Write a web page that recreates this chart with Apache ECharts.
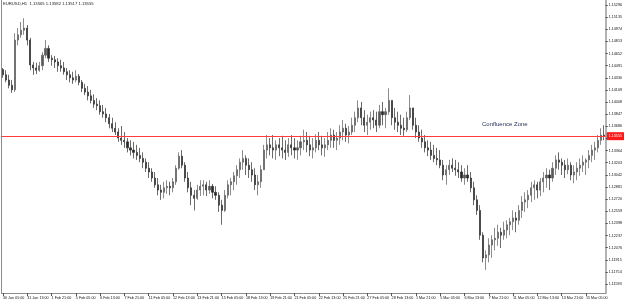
<!DOCTYPE html>
<html>
<head>
<meta charset="utf-8">
<script src="https://cdn.jsdelivr.net/npm/echarts@6/dist/echarts.min.js"></script>
<style>
  html, body { margin: 0; padding: 0; background: #fff; }
  #chart { width: 625px; height: 304px; }
</style>
</head>
<body>
<div id="chart"></div>
<script>
// EURUSD, H4-Kerzen (je 8 Kerzen pro Beschriftung)
const tickLabels = [
  "30 Jan 05:00", "31 Jan 13:00", "1 Feb 21:00", "5 Feb 05:00", "6 Feb 13:00",
  "7 Feb 21:00", "11 Feb 05:00", "12 Feb 13:00", "13 Feb 21:00", "15 Feb 05:00",
  "18 Feb 13:00", "19 Feb 21:00", "21 Feb 05:00", "22 Feb 13:00", "25 Feb 21:00",
  "27 Feb 05:00", "28 Feb 13:00", "1 Mar 21:00", "5 Mar 05:00", "6 Mar 13:00",
  "7 Mar 21:00", "11 Mar 05:00", "12 Mar 13:00", "13 Mar 21:00", "15 Mar 05:00"
];

const priceTicks = [
  1.15296, 1.15135, 1.14974, 1.14813, 1.14652, 1.14491, 1.14330, 1.14169,
  1.14008, 1.13847, 1.13686, 1.13525, 1.13364, 1.13203, 1.13042, 1.12881,
  1.12720, 1.12559, 1.12398, 1.12237, 1.12076, 1.11915, 1.11754, 1.11593
];

const highs = [
  1.1446, 1.1443, 1.1437, 1.1430, 1.1492, 1.1499, 1.1507, 1.1512, 1.1503, 1.1486,
  1.1454, 1.1453, 1.1454, 1.1467, 1.1483, 1.1476, 1.1463, 1.1462, 1.1459, 1.1457,
  1.1454, 1.1446, 1.1443, 1.1441, 1.1443, 1.1438, 1.1430, 1.1425, 1.1422, 1.1417,
  1.1411, 1.1406, 1.1403, 1.1397, 1.1393, 1.1385, 1.1380, 1.1374, 1.1366, 1.1369,
  1.1361, 1.1353, 1.1350, 1.1348, 1.1344, 1.1340, 1.1334, 1.1326, 1.1321, 1.1313,
  1.1308, 1.1300, 1.1291, 1.1295, 1.1297, 1.1295, 1.1300, 1.1317, 1.1334, 1.1337,
  1.1321, 1.1308, 1.1295, 1.1284, 1.1291, 1.1297, 1.1297, 1.1295, 1.1297, 1.1292,
  1.1289, 1.1281, 1.1271, 1.1284, 1.1297, 1.1300, 1.1308, 1.1317, 1.1326, 1.1337,
  1.1330, 1.1326, 1.1321, 1.1313, 1.1304, 1.1317, 1.1344, 1.1357, 1.1353, 1.1357,
  1.1350, 1.1353, 1.1356, 1.1350, 1.1353, 1.1357, 1.1353, 1.1350, 1.1356, 1.1364,
  1.1361, 1.1356, 1.1353, 1.1358, 1.1361, 1.1356, 1.1353, 1.1361, 1.1366, 1.1364,
  1.1361, 1.1370, 1.1377, 1.1372, 1.1369, 1.1380, 1.1388, 1.1403, 1.1401, 1.1390,
  1.1384, 1.1388, 1.1390, 1.1388, 1.1397, 1.1401, 1.1393, 1.1419, 1.1403, 1.1393,
  1.1388, 1.1384, 1.1380, 1.1388, 1.1410, 1.1393, 1.1380, 1.1370, 1.1364, 1.1357,
  1.1350, 1.1348, 1.1344, 1.1340, 1.1337, 1.1324, 1.1317, 1.1324, 1.1326, 1.1324,
  1.1321, 1.1317, 1.1313, 1.1317, 1.1308, 1.1295, 1.1277, 1.1264, 1.1228, 1.1204,
  1.1220, 1.1224, 1.1234, 1.1238, 1.1234, 1.1242, 1.1244, 1.1247, 1.1257, 1.1255,
  1.1264, 1.1276, 1.1281, 1.1284, 1.1295, 1.1297, 1.1295, 1.1300, 1.1308, 1.1313,
  1.1311, 1.1321, 1.1330, 1.1334, 1.1326, 1.1324, 1.1326, 1.1321, 1.1317, 1.1321,
  1.1326, 1.1330, 1.1326, 1.1337, 1.1344, 1.1348, 1.1357, 1.1366, 1.1370
];

const lows = [
  1.1433, 1.1427, 1.1419, 1.1413, 1.1414, 1.1476, 1.1486, 1.1490, 1.1476, 1.1443,
  1.1437, 1.1438, 1.1441, 1.1443, 1.1459, 1.1454, 1.1449, 1.1446, 1.1441, 1.1441,
  1.1437, 1.1430, 1.1427, 1.1425, 1.1427, 1.1423, 1.1414, 1.1410, 1.1403, 1.1399,
  1.1393, 1.1390, 1.1384, 1.1380, 1.1374, 1.1366, 1.1361, 1.1357, 1.1348, 1.1344,
  1.1340, 1.1334, 1.1330, 1.1326, 1.1324, 1.1321, 1.1313, 1.1308, 1.1300, 1.1295,
  1.1287, 1.1277, 1.1271, 1.1273, 1.1279, 1.1277, 1.1281, 1.1291, 1.1311, 1.1313,
  1.1295, 1.1281, 1.1264, 1.1257, 1.1271, 1.1276, 1.1277, 1.1276, 1.1279, 1.1273,
  1.1271, 1.1255, 1.1238, 1.1255, 1.1273, 1.1277, 1.1284, 1.1291, 1.1300, 1.1311,
  1.1304, 1.1300, 1.1295, 1.1284, 1.1277, 1.1287, 1.1311, 1.1326, 1.1330, 1.1326,
  1.1324, 1.1329, 1.1326, 1.1324, 1.1328, 1.1330, 1.1326, 1.1324, 1.1330, 1.1337,
  1.1334, 1.1329, 1.1326, 1.1334, 1.1337, 1.1330, 1.1328, 1.1337, 1.1340, 1.1340,
  1.1337, 1.1344, 1.1350, 1.1348, 1.1346, 1.1357, 1.1361, 1.1374, 1.1370, 1.1361,
  1.1357, 1.1364, 1.1366, 1.1361, 1.1366, 1.1370, 1.1366, 1.1384, 1.1370, 1.1364,
  1.1361, 1.1357, 1.1356, 1.1361, 1.1377, 1.1364, 1.1353, 1.1348, 1.1340, 1.1334,
  1.1329, 1.1324, 1.1321, 1.1317, 1.1313, 1.1297, 1.1291, 1.1304, 1.1308, 1.1303,
  1.1300, 1.1295, 1.1291, 1.1295, 1.1281, 1.1264, 1.1251, 1.1218, 1.1188, 1.1178,
  1.1188, 1.1194, 1.1204, 1.1210, 1.1207, 1.1218, 1.1220, 1.1224, 1.1231, 1.1228,
  1.1238, 1.1247, 1.1255, 1.1260, 1.1268, 1.1271, 1.1273, 1.1276, 1.1281, 1.1287,
  1.1284, 1.1295, 1.1304, 1.1311, 1.1304, 1.1300, 1.1305, 1.1297, 1.1293, 1.1297,
  1.1303, 1.1308, 1.1304, 1.1313, 1.1321, 1.1324, 1.1334, 1.1344, 1.1350
];

const closes = [
  1.1437, 1.1430, 1.1423, 1.1417, 1.1483, 1.1490, 1.1496, 1.1499, 1.1483, 1.1450,
  1.1446, 1.1443, 1.1449, 1.1463, 1.1472, 1.1459, 1.1457, 1.1454, 1.1449, 1.1446,
  1.1441, 1.1437, 1.1433, 1.1430, 1.1435, 1.1427, 1.1419, 1.1414, 1.1409, 1.1403,
  1.1398, 1.1396, 1.1388, 1.1385, 1.1380, 1.1372, 1.1366, 1.1361, 1.1353, 1.1350,
  1.1348, 1.1340, 1.1337, 1.1334, 1.1330, 1.1326, 1.1321, 1.1313, 1.1308, 1.1300,
  1.1291, 1.1284, 1.1281, 1.1287, 1.1289, 1.1287, 1.1295, 1.1313, 1.1329, 1.1317,
  1.1300, 1.1287, 1.1277, 1.1273, 1.1284, 1.1289, 1.1291, 1.1284, 1.1289, 1.1281,
  1.1277, 1.1264, 1.1257, 1.1277, 1.1291, 1.1295, 1.1303, 1.1311, 1.1321, 1.1326,
  1.1317, 1.1311, 1.1304, 1.1291, 1.1295, 1.1311, 1.1337, 1.1344, 1.1340, 1.1337,
  1.1344, 1.1340, 1.1337, 1.1334, 1.1344, 1.1340, 1.1337, 1.1340, 1.1348, 1.1350,
  1.1344, 1.1337, 1.1340, 1.1350, 1.1344, 1.1340, 1.1344, 1.1350, 1.1357, 1.1350,
  1.1353, 1.1361, 1.1366, 1.1357, 1.1361, 1.1370, 1.1380, 1.1393, 1.1380, 1.1370,
  1.1374, 1.1380, 1.1377, 1.1370, 1.1388, 1.1384, 1.1388, 1.1403, 1.1380, 1.1374,
  1.1370, 1.1366, 1.1364, 1.1380, 1.1393, 1.1370, 1.1361, 1.1353, 1.1348, 1.1340,
  1.1337, 1.1330, 1.1326, 1.1324, 1.1317, 1.1304, 1.1311, 1.1317, 1.1313, 1.1311,
  1.1308, 1.1300, 1.1304, 1.1300, 1.1287, 1.1271, 1.1257, 1.1224, 1.1194, 1.1198,
  1.1211, 1.1218, 1.1220, 1.1228, 1.1224, 1.1231, 1.1238, 1.1242, 1.1247, 1.1244,
  1.1257, 1.1268, 1.1271, 1.1277, 1.1287, 1.1291, 1.1284, 1.1295, 1.1300, 1.1304,
  1.1300, 1.1313, 1.1324, 1.1321, 1.1317, 1.1311, 1.1317, 1.1304, 1.1308, 1.1313,
  1.1317, 1.1321, 1.1324, 1.1330, 1.1337, 1.1340, 1.1350, 1.1357, 1.1356
];

const firstOpen = 1.1444;
const bidPrice = 1.13555;
const headerText = "EURUSD,H1  1.13565 1.13582 1.13517 1.13555";

// Kerzen-Daten: Eröffnung = vorheriger Schluss
const candles = closes.map((c, i) => [
  i === 0 ? firstOpen : closes[i - 1], c, lows[i], highs[i]
]);
const categories = closes.map((c, i) => String(i));

const chart = echarts.init(document.getElementById("chart"));

chart.setOption({
  animation: false,
  backgroundColor: "#fff",
  textStyle: { fontFamily: "Liberation Sans, Arial, sans-serif" },
  grid: { left: 1, right: 18, top: 0, bottom: 11, containLabel: false },
  xAxis: {
    type: "category",
    data: categories,
    boundaryGap: true,
    axisLine: { lineStyle: { color: "#8c8c8c", width: 1 } },
    axisTick: {
      show: true,
      alignWithLabel: true,
      interval: 7,
      length: 3,
      lineStyle: { color: "#555" }
    },
    axisLabel: {
      interval: 7,
      align: "left",
      margin: 3,
      fontSize: 3.7,
      color: "#111",
      formatter: (v, i) => tickLabels[i / 8] || ""
    },
    splitLine: { show: false }
  },
  yAxis: [
    {
      type: "value",
      position: "right",
      min: 1.11474,
      max: 1.15362,
      axisLine: { show: true, lineStyle: { color: "#9a9a9a", width: 1.5 } },
      axisTick: {
        show: true,
        customValues: priceTicks,
        length: 2,
        inside: false,
        lineStyle: { color: "#444" }
      },
      axisLabel: {
        customValues: priceTicks,
        margin: 3,
        fontSize: 3.7,
        color: "#111",
        formatter: (v) => v.toFixed(5)
      },
      splitLine: { show: false }
    },
    {
      type: "value",
      position: "left",
      min: 1.11474,
      max: 1.15362,
      axisLine: { show: true, lineStyle: { color: "#8c8c8c", width: 1 } },
      axisTick: { show: false },
      axisLabel: { show: false },
      splitLine: { show: false }
    }
  ],
  graphic: [
    {
      type: "text",
      left: 3,
      top: 2,
      style: {
        text: headerText,
        fontSize: 4.2,
        fill: "#222",
        fontFamily: "Liberation Sans, Arial, sans-serif"
      }
    },
    {
      type: "text",
      left: 482,
      top: 121,
      style: {
        text: "Confluence Zone",
        fontSize: 6,
        fill: "#2a2f5a",
        fontFamily: "Liberation Sans, Arial, sans-serif"
      }
    }
  ],
  series: [
    {
      type: "candlestick",
      data: candles,
      barWidth: 1.6,
      itemStyle: {
        color: "#5a5a5a",
        color0: "#2a2a2a",
        borderColor: "#5a5a5a",
        borderColor0: "#2a2a2a",
        borderWidth: 0.7
      },
      markLine: {
        symbol: ["none", "none"],
        silent: true,
        precision: 5,
        lineStyle: { color: "#ff3b3b", width: 1, type: "solid" },
        label: {
          position: "end",
          distance: 1,
          formatter: () => bidPrice.toFixed(5),
          color: "#fff",
          backgroundColor: "#ff1a1a",
          fontSize: 3.7,
          padding: [2, 2]
        },
        data: [{ yAxis: bidPrice }]
      }
    }
  ]
});

window.addEventListener("resize", () => {
  chart.resize();
});
</script>
</body>
</html>
